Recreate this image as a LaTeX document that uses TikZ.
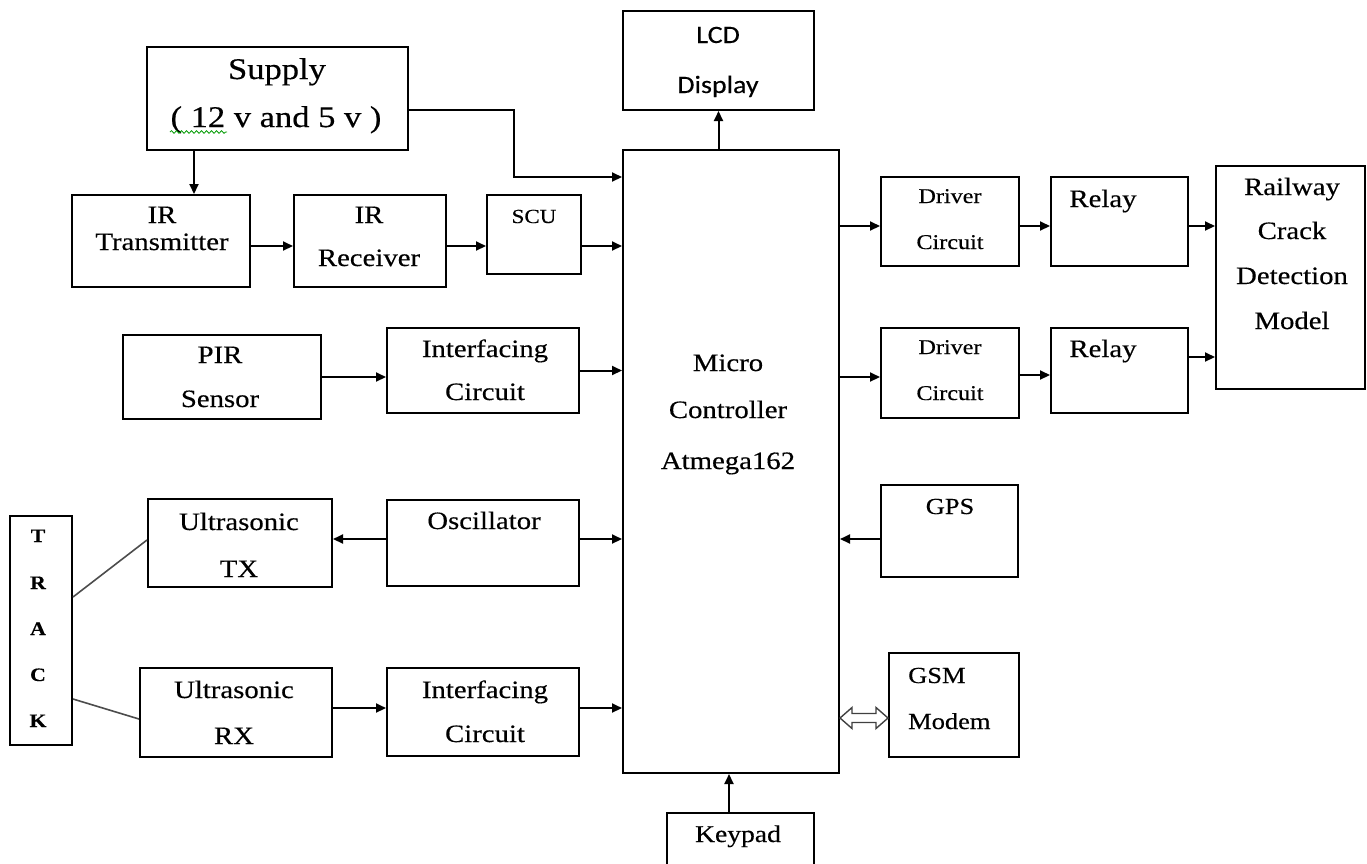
\documentclass[tikz,border=0pt]{standalone}
\usepackage{fontspec}
\setmainfont{Liberation Serif}[FakeStretch=1.15,FakeBold=0.4]
\newfontfamily\lcdfont{Carlito}[FakeStretch=1.12,FakeBold=0.3]
\usetikzlibrary{arrows.meta,calc,decorations.pathmorphing}
\newcommand{\fsz}[1]{\fontsize{#1}{#1}\selectfont}
\begin{document}
\begin{tikzpicture}[x=1pt,y=-1pt,
  box/.style={draw, line width=2pt, inner sep=0pt},
  arr/.style={-{Triangle[length=10pt,width=9pt]}, line width=2pt},
  thinln/.style={draw=black!70, line width=1.6pt},
  dbl/.style={draw=black!75, line width=1.4pt, fill=white},
  txt/.style={anchor=base, inner sep=0pt, font=\fsz{25}},
  txtl/.style={anchor=base west, inner sep=0pt, font=\fsz{23}}]
\useasboundingbox (0,0) rectangle (1367,863);

% ---------- boxes ----------
\node[box, minimum width=261pt, minimum height=103pt] (supply) at (277.5,98.5) {};
\node[box, minimum width=178pt, minimum height=92pt] (irtx) at (161,241) {};
\node[box, minimum width=152pt, minimum height=92pt] (irrx) at (370,241) {};
\node[box, minimum width=94pt, minimum height=79pt] (scu) at (534,234.5) {};
\node[box, minimum width=191pt, minimum height=99pt] (lcd) at (718.5,60.5) {};
\node[box, minimum width=216pt, minimum height=623pt] (mc) at (731,461.5) {};
\node[box, minimum width=138pt, minimum height=89pt] (d1) at (950,221.5) {};
\node[box, minimum width=137pt, minimum height=89pt] (r1) at (1119.5,221.5) {};
\node[box, minimum width=149pt, minimum height=223pt] (rail) at (1290.5,277.5) {};
\node[box, minimum width=138pt, minimum height=90pt] (d2) at (950,373) {};
\node[box, minimum width=137pt, minimum height=85pt] (r2) at (1119.5,370.5) {};
\node[box, minimum width=198pt, minimum height=84pt] (pir) at (222,377) {};
\node[box, minimum width=192pt, minimum height=85pt] (int1) at (483,370.5) {};
\node[box, minimum width=62pt, minimum height=229pt] (track) at (41,630.5) {};
\node[box, minimum width=184pt, minimum height=88pt] (utx) at (240,543) {};
\node[box, minimum width=192pt, minimum height=86pt] (osc) at (483,543) {};
\node[box, minimum width=192pt, minimum height=89pt] (urx) at (236,712.5) {};
\node[box, minimum width=192pt, minimum height=88pt] (int2) at (483,712) {};
\node[box, minimum width=137pt, minimum height=92pt] (gps) at (949.5,531) {};
\node[box, minimum width=130pt, minimum height=104pt] (gsm) at (954,705) {};
\node[box, minimum width=147pt, minimum height=87pt] (kp) at (740.5,856.5) {};

% ---------- texts ----------
\node[txt, font=\fsz{30}] (supplyA) at (277,79) {Supply};
\node[txt, font=\fsz{30}] (supplyB) at (276,127) {( 12 v and 5 v )};
\draw[green!60!black, line width=0.8pt, decorate, decoration={snake, amplitude=1.3pt, segment length=5pt}]
  ([xshift=-106pt,yshift=-5pt]supplyB.base) -- ([xshift=-49pt,yshift=-5pt]supplyB.base);
\node[txt] (irtxA) at (162,223) {IR};
\node[txt] (irtxB) at (162,250) {Transmitter};
\node[txt] (irrxA) at (369,223) {IR};
\node[txt] (irrxB) at (369,266) {Receiver};
\node[txt, font=\fsz{20}] (scuA) at (534,223) {SCU};
\node[txt, font=\lcdfont\fsz{25}] (lcdA) at (718,43) {LCD};
\node[txt, font=\lcdfont\fsz{25}] (lcdB) at (718,93) {Display};
\node[txt] (mcA) at (728,371) {Micro};
\node[txt] (mcB) at (728,418) {Controller};
\node[txt] (mcC) at (728,469) {Atmega162};
\node[txt, font=\fsz{21}] (d1A) at (950,203) {Driver};
\node[txt, font=\fsz{21}] (d1B) at (950,249) {Circuit};
\node[txt] (r1A) at (1103,207) {Relay};
\node[txt] (railA) at (1292,195) {Railway};
\node[txt] (railB) at (1292,239) {Crack};
\node[txt] (railC) at (1292,284) {Detection};
\node[txt] (railD) at (1292,329) {Model};
\node[txt, font=\fsz{21}] (d2A) at (950,354) {Driver};
\node[txt, font=\fsz{21}] (d2B) at (950,400) {Circuit};
\node[txt] (r2A) at (1103,357) {Relay};
\node[txt] (pirA) at (220,363) {PIR};
\node[txt] (pirB) at (220,407) {Sensor};
\node[txt] (int1A) at (485,357) {Interfacing};
\node[txt] (int1B) at (485,400) {Circuit};
\node[txt, font=\bfseries\fsz{19}] (trT) at (38,542) {T};
\node[txt, font=\bfseries\fsz{19}] (trR) at (38,589) {R};
\node[txt, font=\bfseries\fsz{19}] (trA) at (38,635) {A};
\node[txt, font=\bfseries\fsz{19}] (trC) at (38,681) {C};
\node[txt, font=\bfseries\fsz{19}] (trK) at (38,727) {K};
\node[txt] (utxA) at (239,530) {Ultrasonic};
\node[txt] (utxB) at (239,577) {TX};
\node[txt] (oscA) at (484,529) {Oscillator};
\node[txt] (urxA) at (234,698) {Ultrasonic};
\node[txt] (urxB) at (234,744) {RX};
\node[txt] (int2A) at (485,698) {Interfacing};
\node[txt] (int2B) at (485,742) {Circuit};
\node[txt, font=\fsz{23}] (gpsA) at (950,514) {GPS};
\node[txtl] (gsmA) at (908,683) {GSM};
\node[txtl] (gsmB) at (908,729) {Modem};
\node[txt, font=\fsz{24}] (kpA) at (738,842) {Keypad};

% ---------- connectors ----------
\coordinate (s1) at ([xshift=-83.5pt]supply.south);
\draw[arr] (s1) -- (s1 |- irtx.north);
\coordinate (s2) at ([yshift=-11.5pt]supply.east);
\coordinate (s3) at (514,177);
\draw[arr] (s2) -| (s3) -- (s3 -| mc.west);

\coordinate (q1) at ([yshift=-5pt]irtx.east);
\draw[arr] (q1) -- (q1 -| irrx.west);
\draw[arr] (q1 -| irrx.east) -- (q1 -| scu.west);
\draw[arr] (q1 -| scu.east) -- (q1 -| mc.west);

\draw[arr] (lcd.south |- mc.north) -- (lcd.south);

\coordinate (h1) at ([yshift=-4.5pt]d1.west);
\draw[arr] (h1 -| mc.east) -- (h1);
\draw[arr] (h1 -| d1.east) -- (h1 -| r1.west);
\draw[arr] (h1 -| r1.east) -- (h1 -| rail.west);

\coordinate (h2) at ([yshift=-4pt]d2.west);
\draw[arr] (h2 -| mc.east) -- (h2);
\coordinate (h3) at ([yshift=-2pt]d2.east);
\draw[arr] (h3) -- (h3 -| r2.west);
\coordinate (h4) at ([yshift=13.5pt]r2.east);
\draw[arr] (h4) -- (h4 -| rail.west);

\draw[arr] (pir.east) -- (pir.east -| int1.west);
\draw[arr] (int1.east) -- (int1.east -| mc.west);

\coordinate (o1) at ([yshift=4pt]osc.west);
\draw[arr] (o1) -- (o1 -| utx.east);
\draw[arr] (o1 -| osc.east) -- (o1 -| mc.west);

\coordinate (g0) at ([yshift=-8pt]gps.west);
\draw[arr] (g0) -- (g0 -| mc.east);

\coordinate (u1) at ([yshift=4.5pt]urx.east);
\draw[arr] (u1) -- (u1 -| int2.west);
\draw[arr] (u1 -| int2.east) -- (u1 -| mc.west);

\draw[thinln] ([yshift=33.5pt]track.east) -- ([yshift=3pt]utx.west);
\draw[thinln] ([yshift=-68.5pt]track.east) -- ([yshift=-6.5pt]urx.west);

\coordinate (k1) at ([xshift=-11.5pt]kp.north);
\draw[arr] (k1) -- (k1 |- mc.south);

\coordinate (ga) at ([yshift=-13pt]gsm.west);
\coordinate (gb) at (ga -| mc.east);
\draw[dbl] (gb) -- ++(12,-10.5) -- ++(0,6) -- ($(ga)+(-12,-4.5)$) -- ++(0,-6)
  -- (ga) -- ++(-12,10.5) -- ++(0,-6) -- ($(gb)+(12,4.5)$) -- ++(0,6) -- cycle;
\end{tikzpicture}
\end{document}
